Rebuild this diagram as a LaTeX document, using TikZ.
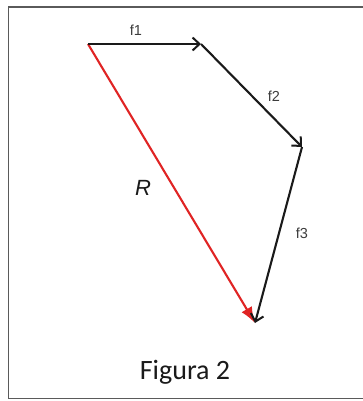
\documentclass[tikz,border=0pt]{standalone}
\usepackage{fontspec}
\usepackage{xcolor}
\usetikzlibrary{arrows.meta,positioning}
\newfontfamily\labelfont{Liberation Sans}
\newfontfamily\capfont{Carlito}
\definecolor{vecblack}{HTML}{1A1A1A}
\definecolor{vecred}{HTML}{E02424}
\definecolor{framegrey}{HTML}{5A5A5A}

\begin{document}
\begin{tikzpicture}[x=1pt,y=-1pt,
  force/.style={vecblack,line width=2.1pt,-{Straight Barb[length=7pt,width=13pt,line width=2pt]}},
  resultant/.style={vecred,line width=2.1pt,-{Latex[length=16pt,width=12pt]}},
  flabel/.style={font=\labelfont\fontsize{14.5}{16}\selectfont,text=vecblack!85,inner sep=0}]
  \useasboundingbox (0,0) rectangle (363,401);
  \fill[white] (0,0) rectangle (363,401);
  \draw[framegrey,line width=1.6pt] (364,7) -- (8.5,7) -- (8.5,398.5) -- (364,398.5);
  \coordinate (o) at (88,44);
  \coordinate (p1) at (201,44);
  \coordinate (p2) at (302,147);
  \coordinate (p3) at (255,323);
  \draw[resultant] (o) -- (p3);
  \draw[force] (o) -- (p1);
  \draw[force] (p1) -- (p2);
  \draw[force] (p2) -- (p3);
  \node[flabel] (lf1) at (136,30) {f1};
  \node[flabel] (lf2) at (274,96) {f2};
  \node[flabel] (lf3) at (302,233) {f3};
  \node[font=\labelfont\itshape\fontsize{22}{24}\selectfont,text=vecblack,inner sep=0] (lr) at (143,188) {R};
  \node[font=\capfont\fontsize{28}{30}\selectfont,text=vecblack,inner sep=0] (cap) at (185,372) {Figura 2};
\end{tikzpicture}
\end{document}
